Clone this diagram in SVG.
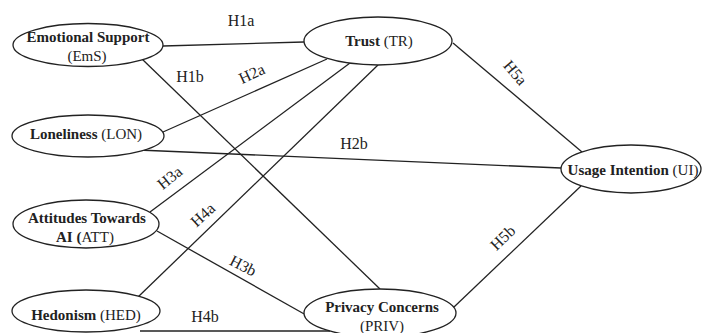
<svg xmlns="http://www.w3.org/2000/svg" width="702" height="333" viewBox="0 0 702 333" font-family="'Liberation Serif', 'Times New Roman', Times, 'DejaVu Serif', serif">
<style>
.n{fill:#fff;stroke:#222;stroke-width:1.3}
.c{fill:none;stroke:#222;stroke-width:1.3}
text{fill:#222}
.t{font-size:15px;text-anchor:middle}
.b{font-weight:bold}
.l{font-size:16px;text-anchor:middle}
</style>
<rect width="702" height="333" fill="#fff"/>
<g id="connectors">
<line class="c" x1="163" y1="46" x2="304" y2="42"/>
<line class="c" x1="142" y1="59" x2="380" y2="289"/>
<line class="c" x1="163" y1="132" x2="327" y2="59"/>
<line class="c" x1="138" y1="150" x2="561" y2="168"/>
<line class="c" x1="150" y1="212" x2="350" y2="63"/>
<line class="c" x1="157" y1="231" x2="306" y2="315"/>
<line class="c" x1="138" y1="297" x2="378" y2="65"/>
<line class="c" x1="140" y1="331" x2="330" y2="331"/>
<line class="c" x1="453" y1="43" x2="582" y2="152"/>
<line class="c" x1="454" y1="307" x2="581" y2="186"/>
</g>
<g id="labels">
<text class="l" x="241" y="26">H1a</text>
<text class="l" x="190" y="82">H1b</text>
<text class="l" transform="translate(252,74) rotate(-25)" y="5">H2a</text>
<text class="l" x="354" y="149">H2b</text>
<text class="l" transform="translate(170,178) rotate(-39)" y="5">H3a</text>
<text class="l" transform="translate(203,215) rotate(-42)" y="5">H4a</text>
<text class="l" transform="translate(243,266) rotate(27)" y="5">H3b</text>
<text class="l" x="205" y="322">H4b</text>
<text class="l" transform="translate(515,73) rotate(50)" y="5">H5a</text>
<text class="l" transform="translate(503,238) rotate(-44)" y="5">H5b</text>
</g>
<g id="EmS">
<ellipse class="n" cx="88" cy="45" rx="75" ry="21.5"/>
<text class="t b" x="88" y="42">Emotional Support</text>
<text class="t" x="87" y="61">(EmS)</text>
</g>
<g id="LON">
<ellipse class="n" cx="88" cy="136" rx="76" ry="21"/>
<text class="t" x="86" y="139"><tspan class="b">Loneliness</tspan> (LON)</text>
</g>
<g id="ATT">
<ellipse class="n" cx="86" cy="224" rx="73" ry="24"/>
<text class="t b" x="87" y="223">Attitudes Towards</text>
<text class="t" x="85" y="242"><tspan class="b">AI (</tspan>ATT)</text>
</g>
<g id="HED">
<ellipse class="n" cx="86" cy="311" rx="74" ry="21"/>
<text class="t" x="86" y="320"><tspan class="b">Hedonism</tspan> (HED)</text>
</g>
<g id="TR">
<ellipse class="n" cx="378" cy="41" rx="74" ry="24"/>
<text class="t" x="379" y="46"><tspan class="b">Trust</tspan> (TR)</text>
</g>
<g id="UI">
<ellipse class="n" cx="631" cy="169" rx="70" ry="24"/>
<text class="t" x="633" y="175"><tspan class="b">Usage Intention</tspan> (UI)</text>
</g>
<g id="PRIV">
<ellipse class="n" cx="380" cy="313" rx="76" ry="24"/>
<text class="t b" x="382" y="312">Privacy Concerns</text>
<text class="t" x="382" y="331">(PRIV)</text>
</g>
</svg>
